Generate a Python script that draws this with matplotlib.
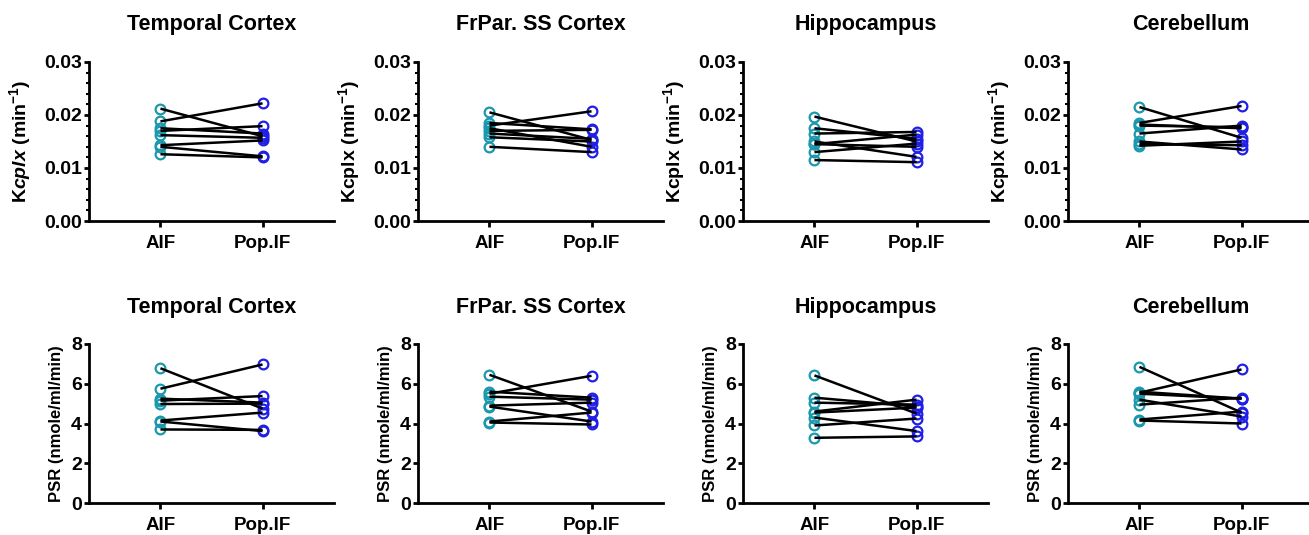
import matplotlib
matplotlib.use("Agg")
import matplotlib.pyplot as plt
from matplotlib.ticker import MultipleLocator, FormatStrFormatter

plt.rcParams['font.family'] = ['Liberation Sans', 'DejaVu Sans']
plt.rcParams['font.weight'] = 'bold'
plt.rcParams['mathtext.fontset'] = 'custom'
plt.rcParams['mathtext.rm'] = 'Liberation Sans:bold'
plt.rcParams['mathtext.it'] = 'Liberation Sans:italic:bold'
plt.rcParams['mathtext.bf'] = 'Liberation Sans:bold'

# ---------------- data ----------------
regions = ["Temporal Cortex", "FrPar. SS Cortex", "Hippocampus", "Cerebellum"]
conditions = ["AIF", "Pop.IF"]

# Kcplx (min^-1)
kcplx_temporal_aif = [0.0212, 0.0188, 0.0175, 0.0170, 0.0162, 0.0143, 0.0140, 0.0126]
kcplx_temporal_pop = [0.0160, 0.0222, 0.0165, 0.0179, 0.0157, 0.0152, 0.0122, 0.0120]
kcplx_frpar_aif = [0.0205, 0.0185, 0.0180, 0.0175, 0.0170, 0.0165, 0.0158, 0.0140]
kcplx_frpar_pop = [0.0153, 0.0173, 0.0207, 0.0140, 0.0172, 0.0155, 0.0150, 0.0130]
kcplx_hippo_aif = [0.0197, 0.0175, 0.0165, 0.0150, 0.0145, 0.0145, 0.0130, 0.0115]
kcplx_hippo_pop = [0.0150, 0.0155, 0.0168, 0.0121, 0.0163, 0.0140, 0.0146, 0.0111]
kcplx_cereb_aif = [0.0215, 0.0185, 0.0182, 0.0180, 0.0165, 0.0150, 0.0145, 0.0142]
kcplx_cereb_pop = [0.0157, 0.0217, 0.0175, 0.0177, 0.0180, 0.0135, 0.0143, 0.0150]

# PSR (nmole/ml/min)
psr_temporal_aif = [6.78, 5.75, 5.25, 5.15, 4.98, 4.15, 4.10, 3.70]
psr_temporal_pop = [4.75, 6.97, 5.05, 5.38, 5.00, 4.55, 3.62, 3.68]
psr_frpar_aif = [6.45, 5.60, 5.50, 5.35, 4.90, 4.85, 4.10, 4.05]
psr_frpar_pop = [4.60, 5.30, 6.40, 5.20, 5.05, 4.10, 4.55, 3.95]
psr_hippo_aif = [6.42, 5.30, 5.05, 4.60, 4.55, 4.30, 3.90, 3.28]
psr_hippo_pop = [4.50, 4.85, 4.95, 5.20, 4.80, 3.62, 4.25, 3.35]
psr_cereb_aif = [6.85, 5.60, 5.55, 5.50, 5.20, 4.95, 4.20, 4.15]
psr_cereb_pop = [4.55, 5.25, 6.72, 5.25, 4.35, 5.30, 4.60, 4.00]

kcplx_aif = [kcplx_temporal_aif, kcplx_frpar_aif, kcplx_hippo_aif, kcplx_cereb_aif]
kcplx_pop = [kcplx_temporal_pop, kcplx_frpar_pop, kcplx_hippo_pop, kcplx_cereb_pop]
psr_aif = [psr_temporal_aif, psr_frpar_aif, psr_hippo_aif, psr_cereb_aif]
psr_pop = [psr_temporal_pop, psr_frpar_pop, psr_hippo_pop, psr_cereb_pop]

# ---------------- styling ----------------
TEAL = '#1b98ad'
BLUE = '#1f1fe6'
W, H = 1309, 535
fig = plt.figure(figsize=(W / 100, H / 100), dpi=100)
lefts = [89, 418, 743, 1068]
axw = 245
axh = 159


def style_axes(ax):
    for s in ['top', 'right']:
        ax.spines[s].set_visible(False)
    for s in ['left', 'bottom']:
        ax.spines[s].set_linewidth(2.0)
    ax.set_xlim(0.3, 2.7)
    ax.set_xticks([1, 2])
    ax.set_xticklabels(conditions)
    ax.tick_params(axis='x', direction='out', length=4, width=2, pad=6, labelsize=13.5)
    ax.tick_params(axis='y', which='major', direction='out', length=3.5, width=2, pad=1.5, labelsize=14)
    ax.tick_params(axis='y', which='minor', direction='out', length=2.5, width=1.5)
    for lab in ax.get_xticklabels() + ax.get_yticklabels():
        lab.set_fontweight('bold')


def draw(ax, aif, pop):
    for a, p in zip(aif, pop):
        ax.plot([1, 2], [a, p], color='black', lw=1.8, zorder=3, solid_capstyle='butt')
    ax.plot([1] * len(aif), aif, 'o', mfc='none', mec=TEAL, mew=1.6, ms=7, zorder=2)
    ax.plot([2] * len(pop), pop, 'o', mfc='none', mec=BLUE, mew=1.6, ms=7, zorder=2)


for i in range(4):
    # top row: Kcplx
    ax = fig.add_axes([lefts[i] / W, (H - 221) / H, axw / W, axh / H])
    draw(ax, kcplx_aif[i], kcplx_pop[i])
    ax.set_ylim(0, 0.03)
    ax.set_yticks([0, 0.01, 0.02, 0.03])
    ax.yaxis.set_major_formatter(FormatStrFormatter('%.2f'))
    ax.yaxis.set_minor_locator(MultipleLocator(0.002))
    style_axes(ax)
    if i == 0:
        ylab = r'K$\mathit{cplx}$ (min$^{\mathregular{-1}}$)'
    else:
        ylab = r'Kcplx (min$^{\mathregular{-1}}$)'
    ax.set_ylabel(ylab, fontsize=14, fontweight='bold', labelpad=8)
    ax.set_title(regions[i], fontsize=15.5, fontweight='bold', pad=23)

    # bottom row: PSR
    ax = fig.add_axes([lefts[i] / W, (H - 503) / H, axw / W, axh / H])
    draw(ax, psr_aif[i], psr_pop[i])
    ax.set_ylim(0, 8)
    ax.set_yticks([0, 2, 4, 6, 8])
    style_axes(ax)
    ax.set_ylabel('PSR (nmole/ml/min)', fontsize=12, fontweight='bold', labelpad=5)
    ax.set_title(regions[i], fontsize=15.5, fontweight='bold', pad=22)

fig.savefig('out.png', dpi=100)
